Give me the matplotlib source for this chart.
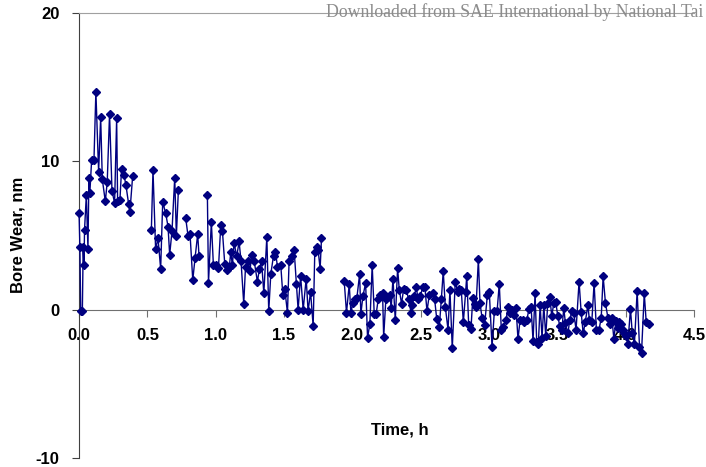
import numpy as np
import matplotlib.pyplot as plt

# bore wear readings, hours vs nm (nan = no reading, breaks the line)
time_h = [
    0.000, 0.006, 0.012, 0.024, 0.030, 0.036, 0.040, 0.053, 0.065, 0.072,
    0.079, 0.092, 0.109, 0.123, 0.143, 0.158, 0.170, 0.192, 0.206, 0.223,
    0.241, 0.260, 0.275, 0.282, 0.299, 0.311, 0.328, 0.343, 0.363, 0.372,
    0.392, 0.460,
    0.529, 0.541, 0.560, 0.578, 0.597, 0.612, 0.634, 0.651, 0.663, 0.680,
    0.700, 0.712, 0.727, 0.755,
    0.780, 0.797, 0.812, 0.832, 0.849, 0.868, 0.878, 0.910,
    0.939, 0.947, 0.968, 0.983, 1.000, 1.020, 1.037, 1.049, 1.066, 1.086,
    1.100, 1.110, 1.122, 1.134, 1.154, 1.171, 1.185, 1.205, 1.218, 1.234,
    1.251, 1.262, 1.281, 1.305, 1.320, 1.335, 1.352, 1.374, 1.388, 1.403,
    1.423, 1.437, 1.452, 1.476, 1.491, 1.505, 1.525, 1.537, 1.555, 1.574,
    1.591, 1.603, 1.621, 1.640, 1.662, 1.676, 1.694, 1.713, 1.725, 1.740,
    1.749, 1.764, 1.774, 1.850,
    1.940, 1.957, 1.977, 1.989, 2.004, 2.018, 2.033, 2.053, 2.062, 2.077,
    2.097, 2.111, 2.128, 2.145, 2.160, 2.174, 2.189, 2.204, 2.221, 2.229,
    2.245, 2.258, 2.275, 2.284, 2.297, 2.314, 2.331, 2.343, 2.360, 2.375,
    2.394, 2.412, 2.429, 2.438, 2.453, 2.467, 2.482, 2.497, 2.514, 2.531,
    2.546, 2.563, 2.588, 2.602, 2.617, 2.636, 2.651, 2.665, 2.680, 2.700,
    2.714, 2.731, 2.753, 2.771, 2.780, 2.797, 2.812, 2.829, 2.837, 2.851,
    2.868, 2.881, 2.897, 2.905, 2.922, 2.934, 2.949, 2.968, 2.988, 3.002,
    3.022, 3.039, 3.059, 3.075, 3.090, 3.105, 3.125, 3.139, 3.154, 3.168,
    3.183, 3.198, 3.212, 3.227, 3.247, 3.259, 3.276, 3.293, 3.308, 3.322,
    3.337, 3.349, 3.361, 3.374, 3.388, 3.401, 3.415, 3.430, 3.445, 3.459,
    3.474, 3.489, 3.503, 3.518, 3.533, 3.547, 3.559, 3.577, 3.591, 3.606,
    3.620, 3.637, 3.659, 3.674, 3.689, 3.705, 3.723, 3.735, 3.752, 3.769,
    3.786, 3.804, 3.821, 3.835, 3.852, 3.870, 3.884, 3.899, 3.914, 3.928,
    3.941, 3.952, 3.967, 3.977, 3.987, 4.001, 4.016, 4.035, 4.048, 4.064,
    4.084, 4.101, 4.116, 4.136, 4.150, 4.170,
]
wear_nm = [
    6.5, 4.2, -0.1, -0.1, 4.2, 3.0, 5.4, 7.7, 4.1, 8.9,
    7.9, 10.1, 10.1, 14.7, 9.3, 13.0, 8.8, 7.3, 8.6, 13.2,
    8.0, 7.2, 12.9, 7.3, 7.4, 9.5, 9.1, 8.4, 7.1, 6.6,
    9.0, np.nan,
    5.4, 9.4, 4.1, 4.8, 2.75, 7.25, 6.5, 5.6, 3.7, 5.3,
    8.9, 5.0, 8.1, np.nan,
    6.2, 5.0, 5.1, 2.0, 3.5, 5.1, 3.6, np.nan,
    7.7, 1.8, 5.9, 3.0, 3.0, 2.8, 5.7, 5.3, 3.1, 2.65,
    2.9, 3.9, 3.0, 4.5, 3.6, 4.6, 3.3, 0.4, 2.9, 3.3,
    2.6, 3.7, 3.3, 1.9, 2.75, 3.3, 1.1, 4.9, -0.1, 2.4,
    3.65, 3.9, 2.9, 3.0, 1.0, 1.4, -0.2, 3.3, 3.6, 4.0,
    1.7, 0.0, 2.3, 0.0, 2.1, -0.1, 1.2, -1.1, 3.9, 4.2,
    4.05, 2.75, 4.8, np.nan,
    1.96, -0.2, 1.7, -0.2, 0.45, 0.7, 0.8, 2.4, -0.3, 0.9,
    1.8, -1.9, -0.95, 3.0, -0.3, -0.3, 0.7, 1.0, 1.1, -1.85,
    0.7, 0.85, 1.0, 0.1, 2.1, -0.7, 2.8, 1.35, 0.4, 1.4,
    1.35, 0.7, -0.2, 0.3, 0.9, 1.5, 0.7, 0.9, 1.5, 1.5,
    -0.1, 1.0, 1.1, 0.7, -0.6, -1.2, 0.7, 2.6, 0.2, -1.35,
    1.3, -2.6, 1.9, 1.2, 1.4, 1.3, -0.85, 1.2, 2.3, -1.0,
    -1.3, 0.8, 0.4, 0.2, 3.4, 0.45, -0.55, -1.0, 1.0, 1.2,
    -2.5, -0.1, -0.1, 1.75, -1.35, -1.2, -0.7, 0.2, -0.2, 0.0,
    -0.35, 0.1, -2.0, -0.7, -0.7, -0.8, -0.7, 0.05, 0.2, -2.1,
    1.1, -2.2, -2.3, 0.3, -1.9, 0.3, -1.8, 0.45, 0.85, -0.45,
    0.45, 0.5, -0.45, -1.1, -1.35, 0.1, -0.9, -1.6, -0.7, -0.1,
    -0.2, -1.35, 1.9, -0.15, -1.6, -0.8, 0.3, -0.7, -0.85, 1.8,
    -1.4, -1.4, -0.55, 2.25, 0.45, -0.55, -0.95, -0.55, -2.0, -0.75,
    -1.25, -0.85, -0.95, -1.35, -1.6, -1.8, -2.3, 0.05, -1.55, -2.3,
    1.25, -2.5, -2.9, 1.1, -0.8, -0.95,
]

x_ticks = np.arange(0, 4.51, 0.5)
y_ticks = [-10, 0, 10, 20]

plt.rcParams['font.family'] = ['Liberation Sans', 'DejaVu Sans']

fig = plt.figure(figsize=(7.06, 4.67), dpi=100)
ax = fig.add_axes([0.112, 0.0193, 0.871, 0.9527])

ax.plot(time_h, wear_nm, color='#000080', lw=1.0, marker='D', ms=3.8,
        mec='#000080', mfc='#000080', clip_on=False, zorder=3)

ax.set_xlim(0, 4.5)
ax.set_ylim(-10, 20)

# x axis sits on the zero line
ax.spines['bottom'].set_position(('data', 0))
ax.spines['bottom'].set_color('#707070')
ax.spines['right'].set_visible(False)
ax.spines['top'].set_color('#a0a0a0')
ax.spines['left'].set_color('#404040')

ax.set_xticks(x_ticks)
ax.set_xticklabels(['%.1f' % t for t in x_ticks])
ax.set_yticks(y_ticks)
ax.set_yticklabels([str(v) for v in y_ticks])
ax.tick_params(axis='x', direction='out', length=5, color='#707070', pad=8)
ax.tick_params(axis='y', direction='out', length=5, color='#404040', pad=9)
for lab in ax.get_xticklabels() + ax.get_yticklabels():
    lab.set_fontsize(12)
    lab.set_fontweight('bold')

fig.text(0.567, 0.079, 'Time, h', fontsize=12, fontweight='bold',
         ha='center', va='center')
fig.text(0.026, 0.497, 'Bore Wear, nm', fontsize=12, fontweight='bold',
         ha='center', va='center', rotation=90)

fig.text(0.462, 0.974, 'Downloaded from SAE International by National Tai',
         fontsize=12.8, color='#8c8c8c', family='Liberation Serif',
         ha='left', va='center')

fig.savefig('out.png', dpi=100)
